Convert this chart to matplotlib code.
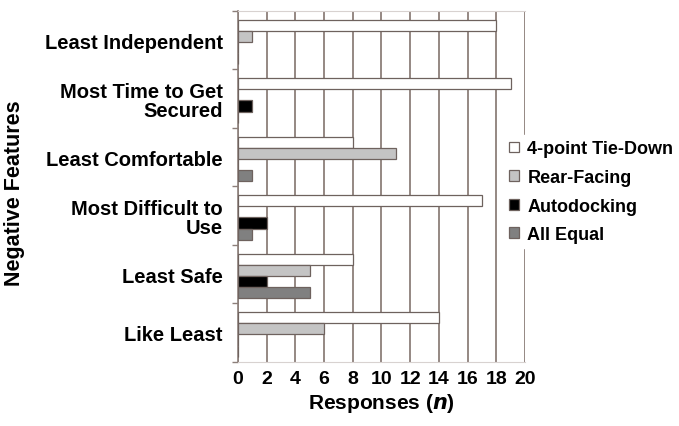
import matplotlib
matplotlib.use("Agg")
import matplotlib.pyplot as plt
import numpy as np

categories = ["Least Independent", "Most Time to Get\nSecured", "Least Comfortable",
              "Most Difficult to\nUse", "Least Safe", "Like Least"]
series_names = ["4-point Tie-Down", "Rear-Facing", "Autodocking", "All Equal"]
tie_down = [18, 19, 8, 17, 8, 14]
rear_facing = [1, 0, 11, 0, 5, 6]
autodocking = [0, 1, 0, 2, 2, 0]
all_equal = [0, 0, 1, 1, 5, 0]
x_ticks = [0, 2, 4, 6, 8, 10, 12, 14, 16, 18, 20]

series = [tie_down, rear_facing, autodocking, all_equal]
colors = ["#ffffff", "#c4c4c4", "#000000", "#808080"]
grid_c = "#8c7f7a"

plt.rcParams['font.family'] = ['Liberation Sans', 'DejaVu Sans']
fig = plt.figure(figsize=(6.79, 4.27), dpi=100)
ax = fig.add_axes([0.3505, 0.150, 0.4227, 0.8219])

n = len(categories)
idx = np.arange(n)
bh = 0.19
for j, (vals, col, name) in enumerate(zip(series, colors, series_names)):
    ypos = idx - 0.5 + 0.15 + bh / 2 + j * bh
    ax.barh(ypos, vals, height=bh, color=col, edgecolor="#6e625e", linewidth=0.9,
            label=name, zorder=3)

ax.set_xlim(0, 20)
ax.set_ylim(n - 0.5, -0.5)
ax.set_xticks(x_ticks)
ax.set_xticklabels([str(t) for t in x_ticks], fontsize=14, fontweight='bold')
ax.tick_params(axis='x', length=0, pad=6)
ax.xaxis.grid(True, color=grid_c, linewidth=1.3, zorder=0)
ax.set_axisbelow(True)

ax.set_yticks(idx)
ax.set_yticklabels(categories, fontsize=14.5, fontweight='bold', ha='right',
                   linespacing=1.05)
ax.tick_params(axis='y', which='major', length=0, pad=11)
ax.set_yticks(np.arange(n + 1) - 0.5, minor=True)
ax.tick_params(axis='y', which='minor', length=4, color=grid_c, width=1)

for s in ['top', 'bottom']:
    ax.spines[s].set_color("#d8d2d0")
    ax.spines[s].set_linewidth(0.8)
ax.spines['right'].set_visible(False)
ax.spines['left'].set_color(grid_c)
ax.spines['left'].set_linewidth(1.2)

ax.set_xlabel("Responses ($\\boldsymbol{n}$)", fontsize=15, fontweight='bold', labelpad=3)
fig.text(0.022, 0.548, "Negative Features", rotation=90, fontsize=15.5,
         fontweight='bold', ha='center', va='center')

leg = ax.legend(loc='center left', bbox_to_anchor=(0.895, 0.485), frameon=True,
                fontsize=13, handlelength=0.55, handleheight=0.55, handletextpad=0.45,
                labelspacing=0.64, borderpad=0.3, framealpha=1)
leg.get_frame().set_edgecolor('white')
leg.get_frame().set_facecolor('white')
for t in leg.get_texts():
    t.set_fontweight('bold')

fig.savefig("out.png", dpi=100)
